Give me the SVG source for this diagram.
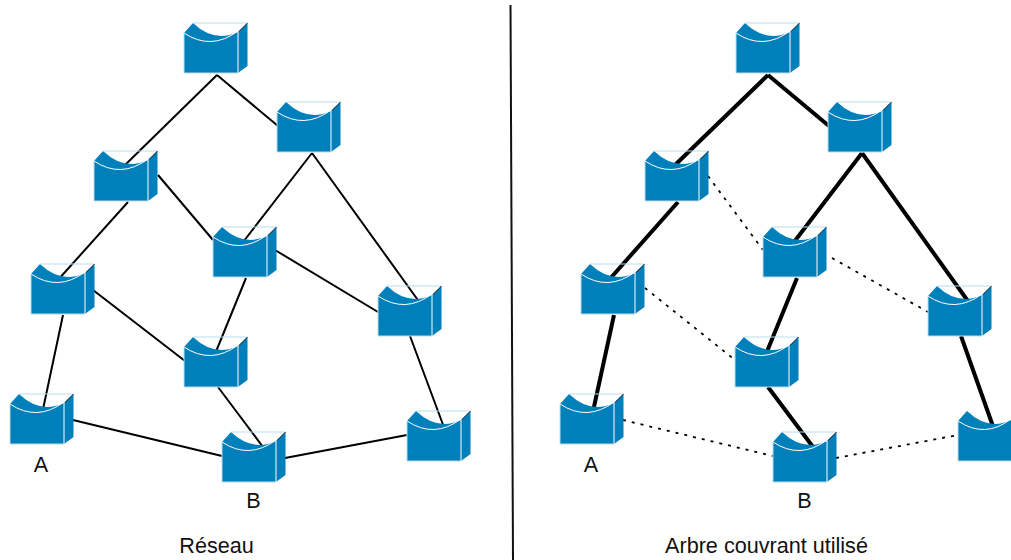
<svg xmlns="http://www.w3.org/2000/svg" width="1011" height="560" viewBox="0 0 1011 560">
<style>
text{font-family:"Liberation Sans",Arial,sans-serif;font-size:21.6px;fill:#111;text-anchor:middle}
.l{stroke:#000;stroke-width:2;fill:none}
.t{stroke:#000;stroke-width:4;fill:none}
.d{stroke:#000;stroke-width:1.8;stroke-dasharray:3 6;fill:none}
.b{fill:#0080bb}
.w{stroke:#fff;stroke-width:1;fill:none}
.e{stroke:#bcdcec;stroke-width:1;fill:none}
</style>
<defs>
<g id="sw">
<path class="b" d="M0 0L9-10Q30 10 54-1V40H0Z"/>
<path class="b" d="M54-1L63.500-10V33L54 40Z"/>
<path class="e" d="M9-10H63.500"/>
<path class="w" d="M0 0Q27 18 54-2V40"/>
<path class="e" d="M0 0V40H54"/>
<path stroke="#123" stroke-width="1" d="M55-1.500L63.500-10" fill="none"/>
</g>
<g id="swc">
<path class="b" d="M0 0L9-10Q30 10 53-1V40H0Z"/>
<path class="w" d="M0 0Q27 18 53-2"/>
<path class="e" d="M0 0V40H53"/>
</g>
</defs>
<g id="connectors">
<path class="l" d="M217 75L124 166M217 75L278 126M128 202L57 281M158 175L213 240M312 153L240 246M312 153L420 303M275 250L378 312M93 290L185 361M63 315L42 414M246 278L215 354M218 387L263 447M73 420L222 456M285 458L407 435M410 336L445 430"/>
<path class="t" d="M768 75L674 166M768 75L829 126M678 202L608 281M862 153L791 246M862 153L970 304M614 315L592 416M797 278L766 354M768 387L813 447M961 336L995 432"/>
<path class="d" d="M708 176L763 250M832 258L928 312M645 288L735 360M623 420L773 456M836 458L958 435"/>
<path stroke="#111" stroke-width="2" d="M510.500 5L513 560" fill="none"/>
</g>
<g id="n1"><use href="#sw" x="184" y="33"/></g>
<g id="n2"><use href="#sw" x="277" y="112"/></g>
<g id="n3"><use href="#sw" x="94" y="161"/></g>
<g id="n4"><use href="#sw" x="213" y="237"/></g>
<g id="n5"><use href="#sw" x="31" y="274"/></g>
<g id="n6"><use href="#sw" x="378" y="296"/></g>
<g id="n7"><use href="#sw" x="184" y="347"/></g>
<g id="n8"><use href="#sw" x="10" y="404"/></g>
<g id="n9"><use href="#sw" x="222" y="442"/></g>
<g id="n10"><use href="#sw" x="407" y="421"/></g>
<g id="m1"><use href="#sw" x="736" y="33"/></g>
<g id="m2"><use href="#sw" x="828" y="112"/></g>
<g id="m3"><use href="#sw" x="645" y="161"/></g>
<g id="m4"><use href="#sw" x="763" y="237"/></g>
<g id="m5"><use href="#sw" x="581" y="274"/></g>
<g id="m6"><use href="#sw" x="928" y="296"/></g>
<g id="m7"><use href="#sw" x="735" y="347"/></g>
<g id="m8"><use href="#sw" x="560" y="404"/></g>
<g id="m9"><use href="#sw" x="773" y="442"/></g>
<g id="m10"><use href="#swc" x="958" y="421"/></g>
<text x="41" y="472">A</text>
<text x="253.500" y="507.500">B</text>
<text x="216.500" y="553">Réseau</text>
<text x="591" y="472">A</text>
<text x="804.500" y="507.500">B</text>
<text x="766.500" y="553">Arbre couvrant utilisé</text>
</svg>
